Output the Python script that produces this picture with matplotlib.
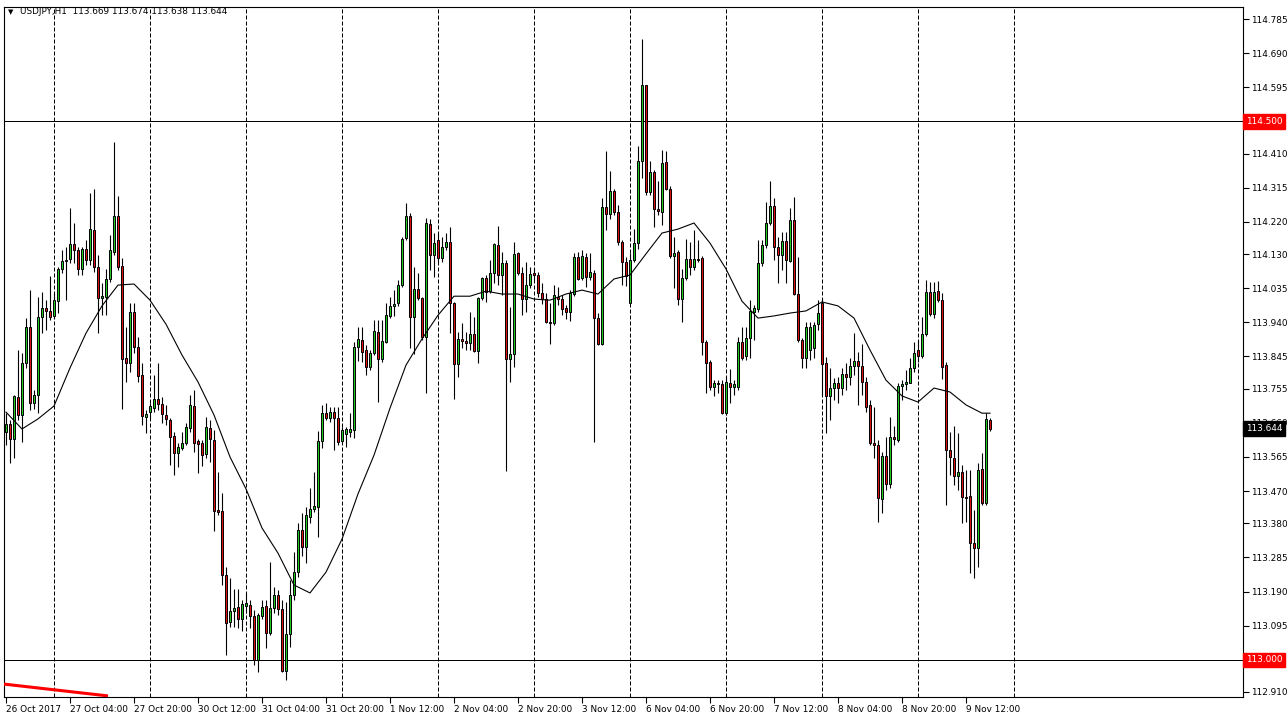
import numpy as np
import matplotlib.pyplot as plt

# USDJPY H1 candles, one entry per hourly bar (26 Oct 2017 12:00 .. 9 Nov 2017)
opens = [
    113.634, 113.657, 113.615, 113.732, 113.682, 113.827, 113.927, 113.715, 113.738, 113.955,
    113.980, 113.972, 113.958, 113.999, 114.089, 114.111, 114.117, 114.158, 114.142, 114.089,
    114.144, 114.114, 114.197, 114.094, 114.008, 114.011, 114.061, 114.136, 114.236, 114.097,
    113.841, 113.827, 113.969, 113.872, 113.793, 113.677, 113.690, 113.701, 113.727, 113.713,
    113.682, 113.668, 113.623, 113.576, 113.590, 113.604, 113.646, 113.707, 113.609, 113.604,
    113.573, 113.646, 113.612, 113.417, 113.414, 113.236, 113.105, 113.136, 113.147, 113.113,
    113.150, 113.152, 113.122, 112.999, 113.122, 113.150, 113.075, 113.144, 113.180, 113.141,
    112.969, 113.072, 113.180, 113.244, 113.361, 113.314, 113.398, 113.420, 113.425, 113.609,
    113.687, 113.674, 113.690, 113.674, 113.609, 113.629, 113.634, 113.640, 113.872, 113.891,
    113.863, 113.816, 113.855, 113.913, 113.838, 113.885, 113.958, 113.985, 113.994, 114.044,
    114.175, 114.236, 113.955, 114.033, 114.008, 113.899, 114.214, 114.128, 114.169, 114.119,
    114.150, 114.164, 113.994, 113.824, 113.894, 113.888, 113.882, 113.908, 113.860, 114.008,
    114.063, 114.027, 114.077, 114.155, 114.072, 114.105, 113.838, 113.852, 114.133, 114.077,
    114.005, 114.044, 114.077, 114.072, 114.022, 114.005, 113.941, 113.938, 114.011, 114.005,
    113.980, 113.969, 114.019, 114.122, 114.063, 114.122, 114.066, 114.077, 113.952, 113.880,
    114.261, 114.242, 114.306, 114.247, 114.164, 114.108, 113.994, 114.114, 114.161, 114.389,
    114.601, 114.303, 114.359, 114.256, 114.247, 114.387, 114.311, 114.125, 114.136, 114.005,
    114.063, 114.117, 114.094, 114.117, 114.119, 113.885, 113.830, 113.760, 113.771, 113.768,
    113.687, 113.771, 113.760, 113.760, 113.885, 113.846, 113.896, 113.969, 113.977, 114.105,
    114.155, 114.217, 114.264, 114.150, 114.128, 114.167, 114.111, 114.225, 114.019, 113.891,
    113.841, 113.863, 113.869, 113.935, 113.994, 113.827, 113.735, 113.757, 113.771, 113.757,
    113.796, 113.788, 113.818, 113.832, 113.818, 113.774, 113.710, 113.604, 113.598, 113.448,
    113.568, 113.490, 113.620, 113.612, 113.763, 113.768, 113.771, 113.813, 113.863, 113.846,
    113.908, 114.025, 113.963, 114.027, 114.002, 113.821, 113.584, 113.562, 113.512, 113.523,
    113.453, 113.456, 113.325, 113.311, 113.531, 113.437, 113.669,
]
highs = [
    113.687, 113.668, 113.738, 113.863, 113.855, 113.952, 114.030, 113.752, 114.011, 114.025,
    114.002, 114.069, 114.022, 114.094, 114.142, 114.150, 114.259, 114.217, 114.150, 114.150,
    114.169, 114.300, 114.311, 114.128, 114.050, 114.089, 114.183, 114.442, 114.292, 114.119,
    113.927, 113.994, 113.994, 113.899, 113.827, 113.696, 113.715, 113.793, 113.827, 113.732,
    113.710, 113.674, 113.634, 113.604, 113.634, 113.660, 113.738, 113.752, 113.615, 113.612,
    113.677, 113.668, 113.640, 113.523, 113.464, 113.258, 113.228, 113.197, 113.197, 113.166,
    113.186, 113.166, 113.139, 113.130, 113.166, 113.166, 113.272, 113.203, 113.194, 113.166,
    113.161, 113.222, 113.300, 113.381, 113.409, 113.425, 113.478, 113.523, 113.637, 113.710,
    113.715, 113.704, 113.704, 113.704, 113.648, 113.648, 113.687, 113.885, 113.927, 113.927,
    113.877, 113.863, 113.947, 113.947, 113.947, 113.994, 114.011, 114.030, 114.058, 114.178,
    114.272, 114.245, 114.094, 114.077, 114.011, 114.231, 114.228, 114.189, 114.189, 114.178,
    114.189, 114.206, 113.997, 113.913, 113.938, 113.913, 113.969, 113.955, 114.011, 114.066,
    114.072, 114.114, 114.161, 114.208, 114.136, 114.114, 113.983, 114.164, 114.136, 114.094,
    114.108, 114.094, 114.091, 114.080, 114.050, 114.022, 113.994, 114.044, 114.038, 114.016,
    113.988, 114.030, 114.133, 114.136, 114.142, 114.133, 114.133, 114.086, 113.966, 114.286,
    114.417, 114.362, 114.311, 114.267, 114.169, 114.122, 114.133, 114.200, 114.431, 114.729,
    114.601, 114.389, 114.364, 114.334, 114.420, 114.417, 114.320, 114.178, 114.142, 114.089,
    114.172, 114.164, 114.197, 114.169, 114.125, 113.891, 113.835, 113.779, 113.779, 113.779,
    113.788, 113.810, 113.779, 113.899, 113.927, 113.927, 114.002, 113.988, 114.169, 114.169,
    114.275, 114.334, 114.286, 114.178, 114.192, 114.192, 114.259, 114.289, 114.122, 113.896,
    113.941, 113.941, 113.941, 114.002, 114.008, 113.843, 113.813, 113.785, 113.788, 113.813,
    113.827, 113.841, 113.910, 113.857, 113.880, 113.788, 113.724, 113.704, 113.612, 113.579,
    113.620, 113.677, 113.651, 113.771, 113.779, 113.807, 113.841, 113.885, 113.891, 113.955,
    114.058, 114.053, 114.053, 114.055, 114.022, 113.830, 113.634, 113.651, 113.632, 113.542,
    113.529, 113.529, 113.417, 113.548, 113.576, 113.687, 113.674,
]
lows = [
    113.598, 113.548, 113.562, 113.668, 113.607, 113.813, 113.696, 113.699, 113.687, 113.910,
    113.919, 113.947, 113.952, 113.966, 114.077, 114.002, 114.105, 114.105, 114.072, 114.072,
    114.100, 114.100, 114.080, 113.910, 113.960, 113.960, 114.053, 114.128, 114.086, 113.699,
    113.774, 113.802, 113.855, 113.774, 113.654, 113.632, 113.674, 113.690, 113.696, 113.660,
    113.654, 113.542, 113.515, 113.537, 113.584, 113.598, 113.634, 113.579, 113.520, 113.540,
    113.562, 113.551, 113.359, 113.403, 113.208, 113.013, 113.091, 113.091, 113.088, 113.080,
    113.130, 113.088, 112.985, 112.966, 113.113, 113.033, 113.069, 113.130, 113.125, 112.966,
    112.944, 113.036, 113.166, 113.230, 113.289, 113.269, 113.381, 113.412, 113.342, 113.590,
    113.668, 113.662, 113.584, 113.598, 113.604, 113.593, 113.620, 113.618, 113.832, 113.830,
    113.793, 113.807, 113.849, 113.718, 113.830, 113.882, 113.952, 113.958, 113.985, 114.038,
    114.169, 113.868, 113.852, 114.002, 113.891, 113.743, 114.086, 114.066, 114.108, 114.108,
    114.142, 113.910, 113.726, 113.788, 113.868, 113.863, 113.863, 113.857, 113.827, 114.002,
    113.997, 114.022, 114.050, 114.044, 114.016, 113.526, 113.774, 113.816, 114.072, 113.960,
    113.969, 114.036, 114.058, 114.011, 113.991, 113.938, 113.880, 113.933, 113.988, 113.960,
    113.949, 113.944, 114.013, 114.058, 114.058, 114.038, 114.058, 113.607, 113.877, 113.877,
    114.197, 114.228, 114.239, 114.155, 114.044, 114.041, 113.994, 114.108, 114.144, 114.342,
    114.295, 114.295, 114.206, 114.240, 114.211, 114.309, 114.119, 114.036, 113.988, 113.941,
    114.058, 114.072, 114.086, 114.108, 113.849, 113.743, 113.752, 113.735, 113.743, 113.684,
    113.682, 113.715, 113.738, 113.752, 113.835, 113.835, 113.841, 113.891, 113.969, 114.097,
    114.147, 114.211, 114.114, 114.050, 114.086, 114.050, 114.108, 114.016, 113.885, 113.813,
    113.813, 113.835, 113.841, 113.919, 113.738, 113.632, 113.668, 113.724, 113.715, 113.738,
    113.752, 113.765, 113.793, 113.710, 113.738, 113.690, 113.598, 113.562, 113.384, 113.409,
    113.473, 113.478, 113.598, 113.607, 113.724, 113.752, 113.771, 113.802, 113.830, 113.841,
    113.902, 113.958, 113.952, 113.997, 113.782, 113.431, 113.515, 113.487, 113.473, 113.381,
    113.384, 113.242, 113.228, 113.258, 113.431, 113.431, 113.638,
]
closes = [
    113.657, 113.615, 113.735, 113.682, 113.827, 113.927, 113.715, 113.738, 113.955, 113.980,
    113.972, 113.955, 114.002, 114.089, 114.111, 114.114, 114.158, 114.142, 114.089, 114.144,
    114.114, 114.200, 114.094, 114.008, 114.013, 114.061, 114.142, 114.236, 114.094, 113.838,
    113.827, 113.969, 113.872, 113.791, 113.679, 113.685, 113.707, 113.727, 113.713, 113.685,
    113.671, 113.620, 113.576, 113.593, 113.604, 113.648, 113.710, 113.604, 113.601, 113.570,
    113.648, 113.615, 113.414, 113.411, 113.236, 113.102, 113.136, 113.144, 113.113, 113.155,
    113.158, 113.122, 112.999, 113.125, 113.147, 113.075, 113.144, 113.180, 113.141, 112.969,
    113.072, 113.180, 113.244, 113.361, 113.314, 113.403, 113.420, 113.428, 113.609, 113.687,
    113.674, 113.690, 113.674, 113.607, 113.640, 113.643, 113.643, 113.872, 113.894, 113.857,
    113.816, 113.855, 113.916, 113.838, 113.888, 113.960, 113.985, 113.991, 114.044, 114.172,
    114.236, 113.955, 114.033, 114.008, 113.899, 114.217, 114.128, 114.161, 114.119, 114.150,
    114.164, 113.994, 113.824, 113.894, 113.888, 113.882, 113.908, 113.860, 114.008, 114.063,
    114.025, 114.077, 114.158, 114.072, 114.105, 113.838, 113.852, 114.131, 114.077, 114.005,
    114.044, 114.075, 114.072, 114.022, 114.005, 113.941, 113.938, 114.016, 114.005, 113.977,
    113.969, 114.022, 114.122, 114.061, 114.125, 114.066, 114.080, 113.952, 113.880, 114.261,
    114.242, 114.306, 114.247, 114.164, 114.108, 114.069, 114.114, 114.161, 114.389, 114.601,
    114.303, 114.359, 114.256, 114.250, 114.384, 114.311, 114.125, 114.133, 114.005, 114.063,
    114.117, 114.094, 114.117, 114.114, 113.885, 113.827, 113.760, 113.771, 113.768, 113.687,
    113.774, 113.760, 113.768, 113.885, 113.841, 113.896, 113.972, 113.980, 114.105, 114.155,
    114.217, 114.264, 114.150, 114.128, 114.167, 114.114, 114.225, 114.019, 113.891, 113.841,
    113.927, 113.927, 113.933, 113.966, 113.824, 113.735, 113.757, 113.771, 113.757, 113.796,
    113.788, 113.818, 113.832, 113.818, 113.774, 113.704, 113.604, 113.598, 113.451, 113.568,
    113.490, 113.620, 113.615, 113.763, 113.768, 113.774, 113.813, 113.855, 113.846, 113.908,
    114.025, 113.963, 114.025, 114.002, 113.816, 113.584, 113.565, 113.512, 113.523, 113.453,
    113.451, 113.325, 113.311, 113.529, 113.437, 113.671, 113.644,
]

# moving average, every 4th bar
ma_bars = list(range(0, 245, 4)) + [246]
ma_values = [
    113.690, 113.643, 113.671, 113.707, 113.813, 113.910, 113.986, 114.044, 114.047, 114.002,
    113.935, 113.849, 113.774, 113.682, 113.565, 113.476, 113.367, 113.297, 113.208, 113.186,
    113.244, 113.336, 113.462, 113.570, 113.701, 113.821, 113.894, 113.960, 114.013, 114.013,
    114.027, 114.019, 114.019, 114.005, 114.002, 114.019, 114.030, 114.019, 114.061, 114.072,
    114.131, 114.189, 114.200, 114.217, 114.161, 114.089, 113.999, 113.952, 113.958, 113.966,
    113.972, 113.997, 113.986, 113.952, 113.863, 113.779, 113.735, 113.718, 113.757, 113.746,
    113.710, 113.687, 113.687,
]

time_label_bars = list(range(0, 241, 16))
time_labels = ["26 Oct 2017", "27 Oct 04:00", "27 Oct 20:00", "30 Oct 12:00", "31 Oct 04:00",
               "31 Oct 20:00", "1 Nov 12:00", "2 Nov 04:00", "2 Nov 20:00", "3 Nov 12:00",
               "6 Nov 04:00", "6 Nov 20:00", "7 Nov 12:00", "8 Nov 04:00", "8 Nov 20:00",
               "9 Nov 12:00"]
grid_bars = list(range(12, 253, 24))

price_ticks = [114.785, 114.690, 114.595, 114.410, 114.315, 114.220, 114.130, 114.035,
               113.940, 113.845, 113.755, 113.660, 113.565, 113.470, 113.380, 113.285,
               113.190, 113.095, 112.910]
levels = [114.500, 113.000]
last_price = 113.644
trend_x = [-0.5, 25.5]
trend_y = [112.932, 112.899]

title = "USDJPY,H1  113.669 113.674 113.638 113.644"

green = "#22cc22"
red = "#dd1111"
fs = 6.4

fig = plt.figure(figsize=(12.87, 7.2), dpi=100)
ax = fig.add_axes([4 / 1287, 23 / 720, 1239 / 1287, 690 / 720])

o = np.array(opens)
h = np.array(highs)
l = np.array(lows)
c = np.array(closes)
x = np.arange(len(o))
up = c >= o

for b in grid_bars:
    ax.axvline(b, color="black", lw=0.72, ls=(0, (4, 2)), zorder=1)
for lv in levels:
    ax.axhline(lv, color="black", lw=0.72, zorder=2)

ax.vlines(x, l, h, color="black", lw=0.8, zorder=3)
ax.bar(x[up], (c - o)[up], bottom=o[up], width=0.62, color=green,
       edgecolor="black", linewidth=0.7, zorder=4)
ax.bar(x[~up], (o - c)[~up], bottom=c[~up], width=0.62, color=red,
       edgecolor="black", linewidth=0.7, zorder=4)

ax.plot(ma_bars, ma_values, color="black", lw=0.8, zorder=5)
ax.plot(trend_x, trend_y, color="red", lw=2.2, solid_capstyle="butt", zorder=6)

ax.set_xlim(-0.5, 309.25)
ax.set_ylim(112.896, 114.819)

for s in ax.spines.values():
    s.set_color("black")
    s.set_linewidth(0.8)

ax.set_xticks(time_label_bars)
ax.set_xticklabels(time_labels, ha="left")
ax.tick_params(axis="x", length=4, width=0.8, pad=1.5, labelsize=fs)

ax.yaxis.tick_right()
ax.set_yticks(price_ticks)
ax.set_yticklabels([f"{v:.3f}" for v in price_ticks])
ax.tick_params(axis="y", length=4, width=0.8, pad=2, labelsize=fs)


def price_box(value, face):
    ax.text(1.0025, value, f"{value:.3f}", transform=ax.get_yaxis_transform(),
            ha="left", va="center", fontsize=fs, color="white", zorder=10, clip_on=False,
            bbox=dict(boxstyle="square,pad=0.3", facecolor=face, edgecolor=face))


for lv in levels:
    price_box(lv, "red")
price_box(last_price, "black")

fig.text(8 / 1287, 1 - 12 / 720, "\u25bc", fontsize=5, va="center")
fig.text(20 / 1287, 1 - 12 / 720, title, fontsize=fs, va="center")

fig.savefig("out.png", dpi=100)
